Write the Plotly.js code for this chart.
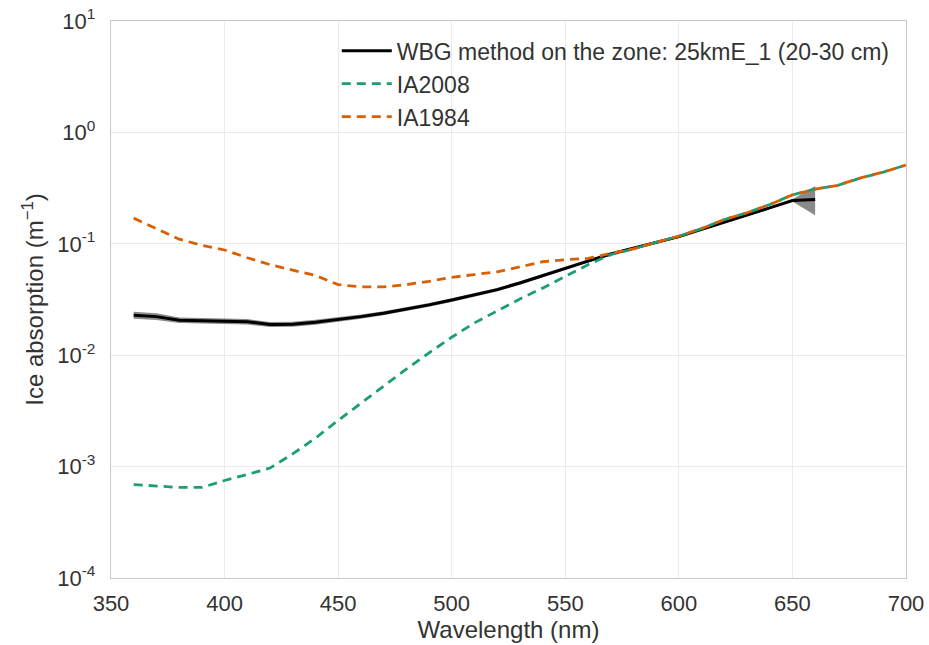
<!DOCTYPE html>
<html>
<head>
<meta charset="utf-8">
<script src="https://cdn.plot.ly/plotly-3.0.1.min.js"></script>
<style>html,body{margin:0;padding:0;background:#fff;}#chart{width:929px;height:645px;}</style>
</head>
<body>
<div id="chart"></div>
<script>
// Wavelengths (nm)
var wlWBG = [360,370,380,390,400,410,420,430,440,450,460,470,480,490,500,510,520,530,540,550,560,570,580,590,600,610,620,630,640,650,660];
var wbgMean = [0.0228,0.0222,0.0206,0.0204,0.0202,0.0200,0.0189,0.0190,0.0198,0.0209,0.0222,0.0238,0.0258,0.0283,0.0313,0.0348,0.0388,0.0445,0.0520,0.0600,0.0700,0.0810,0.0910,0.1030,0.1160,0.1350,0.1560,0.1800,0.2100,0.2450,0.2500];
var wbgUpper = [0.0246,0.0238,0.0218,0.0215,0.0213,0.0211,0.0199,0.0200,0.0208,0.0219,0.0232,0.0248,0.0268,0.0294,0.0325,0.0361,0.0402,0.0461,0.0538,0.0620,0.0722,0.0835,0.0937,0.1060,0.1193,0.1388,0.1602,0.1846,0.2152,0.2505,0.3300];
var wbgLower = [0.0212,0.0207,0.0195,0.0193,0.0191,0.0189,0.0179,0.0180,0.0188,0.0199,0.0212,0.0228,0.0248,0.0272,0.0301,0.0335,0.0374,0.0429,0.0502,0.0580,0.0678,0.0785,0.0883,0.1000,0.1127,0.1312,0.1518,0.1754,0.2048,0.2395,0.1800];

var wlRef = [360,370,380,390,400,410,420,430,440,450,460,470,480,490,500,510,520,530,540,550,560,570,580,590,600,610,620,630,640,650,660,670,680,690,700];
var ia2008 = [0.00069,0.00067,0.00065,0.00065,0.00075,0.00085,0.00097,0.0013,0.0018,0.0026,0.0037,0.0053,0.0075,0.0105,0.0145,0.0195,0.025,0.032,0.040,0.051,0.065,0.080,0.090,0.103,0.117,0.137,0.165,0.19,0.225,0.275,0.31,0.335,0.39,0.44,0.51];
var ia1984 = [0.17,0.137,0.11,0.097,0.088,0.075,0.065,0.058,0.052,0.043,0.041,0.041,0.043,0.046,0.050,0.053,0.056,0.062,0.069,0.072,0.074,0.082,0.090,0.103,0.117,0.137,0.165,0.19,0.225,0.275,0.31,0.335,0.39,0.44,0.51];

var xTicks = [350,400,450,500,550,600,650,700];
var yTickVals = [1e-4,1e-3,1e-2,1e-1,1,10];
var yTickText = ['10<sup>-4</sup>','10<sup>-3</sup>','10<sup>-2</sup>','10<sup>-1</sup>','10<sup>0</sup>','10<sup>1</sup>'];

var seriesNames = ['WBG method on the zone: 25kmE_1 (20-30 cm)','IA2008','IA1984'];

var traces = [
  {x: wlWBG, y: wbgLower, mode:'lines', line:{width:0, color:'rgba(0,0,0,0)'}, showlegend:false, hoverinfo:'skip'},
  {x: wlWBG, y: wbgUpper, mode:'lines', line:{width:0, color:'rgba(0,0,0,0)'}, fill:'tonexty', fillcolor:'rgba(60,60,60,0.6)', showlegend:false, hoverinfo:'skip'},
  {x: wlWBG, y: wbgMean, mode:'lines', name: seriesNames[0], line:{color:'#000000', width:3}},
  {x: wlRef, y: ia2008, mode:'lines', name: seriesNames[1], line:{color:'#1b9e77', width:2.8, dash:'9px,6px'}},
  {x: wlRef, y: ia1984, mode:'lines', name: seriesNames[2], line:{color:'#d95f02', width:2.8, dash:'9px,6px'}}
];

var layout = {
  width: 929, height: 645,
  margin: {l:111, r:23, t:21, b:67},
  paper_bgcolor:'#ffffff', plot_bgcolor:'#ffffff',
  font: {family:'"Liberation Sans", Arial, sans-serif', color:'#333333', size:22},
  showlegend: true,
  legend: {x:0.284, y:0.985, xanchor:'left', yanchor:'top', traceorder:'normal', bgcolor:'rgba(0,0,0,0)', font:{size:23, color:'#333333'}, tracegroupgap:0, itemwidth:50},
  xaxis: {
    range:[350,700], tickvals: xTicks, ticks:'', showgrid:true, gridcolor:'#ebebeb', gridwidth:1.2,
    showline:true, linecolor:'#c8c8c8', linewidth:1.2, mirror:true, zeroline:false,
    tickfont:{size:22, color:'#333333'}, ticklabelstandoff:5,
    title:{text:'Wavelength (nm)', font:{size:24, color:'#333333'}, standoff:2}
  },
  yaxis: {
    type:'log', range:[-4,1], tickvals: yTickVals, ticktext: yTickText, ticks:'', showgrid:true, gridcolor:'#ebebeb', gridwidth:1.2,
    showline:true, linecolor:'#c8c8c8', linewidth:1.2, mirror:true, zeroline:false,
    tickfont:{size:22, color:'#333333'}, ticklabelstandoff:10,
    title:{text:'Ice absorption (m<sup>−1</sup>)', font:{size:24, color:'#333333'}, standoff:6}
  }
};

Plotly.newPlot('chart', traces, layout, {displayModeBar:false, staticPlot:true});
</script>
</body>
</html>
